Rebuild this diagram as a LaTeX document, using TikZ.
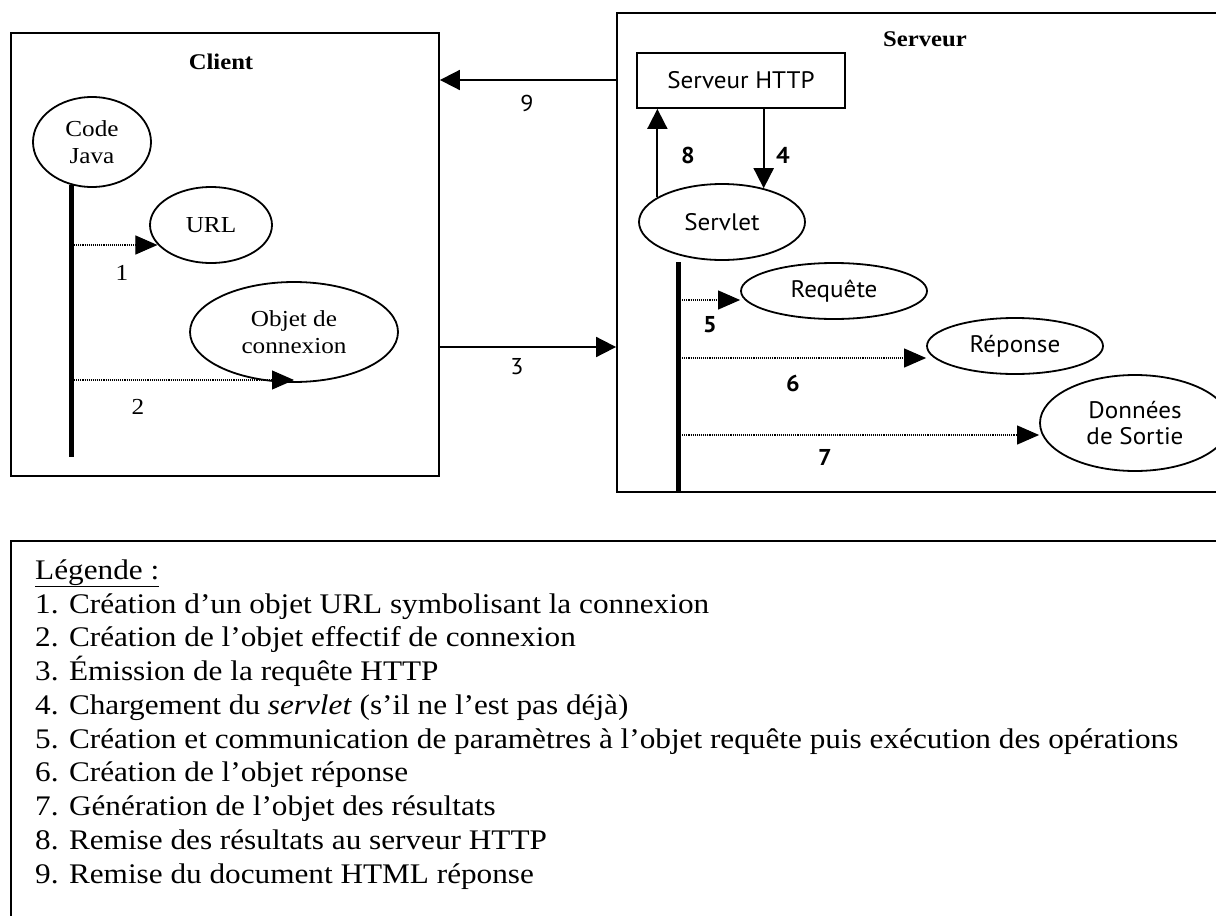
\documentclass[tikz,border=0pt]{standalone}
\usepackage{fontspec}
\setmainfont[FakeStretch=1.1]{Liberation Serif}
\newfontfamily\srvfont[FakeStretch=1.05]{PT Sans}
\usetikzlibrary{shapes.geometric,arrows.meta}

\begin{document}
\begin{tikzpicture}[x=1bp,y=-1bp,
  panel/.style={draw, line width=1.8bp, rectangle, inner sep=0pt},
  objoval/.style={draw, line width=1.8bp, ellipse, inner sep=0pt, align=center},
  seriftext/.style={font=\fontsize{23}{27}\selectfont},
  sanstext/.style={font=\srvfont\fontsize{24}{27}\selectfont},
  boxtitle/.style={inner sep=0pt, font=\bfseries\fontsize{22.5}{27}\selectfont},
  steplabel/.style={inner sep=0pt, font=\fontsize{23}{27}\selectfont},
  srvlabel/.style={inner sep=0pt, font=\srvfont\bfseries\fontsize{23}{27}\selectfont},
  linklabel/.style={inner sep=0pt, font=\srvfont\fontsize{23}{27}\selectfont},
  callarrow/.style={densely dotted, line width=1.1bp, -{Triangle[length=22bp,width=19bp]}},
  msgarrow/.style={line width=1.8bp, -{Triangle[length=20bp,width=20bp]}},
  lifeline/.style={line width=5bp},
  legendline/.style={anchor=base west, inner sep=0pt, font=\fontsize{28.5}{34}\selectfont}
]
\useasboundingbox (0,0) rectangle (1216,916);
\clip (0,0) rectangle (1216,916);

% ---- frames ----
\node[panel, minimum width=428bp, minimum height=443bp] (client) at (225,254.5) {};
\node[panel, minimum width=609bp, minimum height=479bp] (server) at (921.5,252.5) {};
\node[panel, minimum width=1215bp, minimum height=389bp] (legend) at (618.5,735.5) {};

\node[boxtitle] (clienttitle) at (221,62) {Client};
\node[boxtitle] (servertitle) at (925,39) {Serveur};

% ---- client side ----
\node[objoval, seriftext, minimum width=118bp, minimum height=90bp] (java) at (92,142) {Code\\Java};
\node[objoval, seriftext, minimum width=122bp, minimum height=76bp] (url) at (211,225) {URL};
\node[objoval, seriftext, minimum width=208bp, minimum height=100bp] (objet) at (294,332) {Objet de\\connexion};

\coordinate (a1) at (72,245);
\coordinate (a2) at (72,380);
\coordinate (clbot) at (72,457);

\draw[callarrow] (a1) -- (a1 -| url.200);
\draw[callarrow] (a2) -- (a2 -| objet.south);
\draw[lifeline] (java.244) -- (java.244 |- clbot);

\node[steplabel] (lab1) at (122,273) {1};
\node[steplabel] (lab2) at (138,407) {2};

% ---- server side ----
\node[panel, sanstext, minimum width=208bp, minimum height=55bp] (http) at (741,80.5) {Serveur HTTP};
\node[objoval, sanstext, minimum width=166bp, minimum height=76bp] (servlet) at (722,222) {Servlet};
\node[objoval, sanstext, minimum width=186bp, minimum height=56bp] (requete) at (834,291) {Requête};
\node[objoval, sanstext, minimum width=176bp, minimum height=56bp] (reponse) at (1015,346) {Réponse};
\node[objoval, sanstext, minimum width=190bp, minimum height=96bp] (donnees) at (1135,423) {Données\\de Sortie};

\coordinate (sltop) at (678,262);
\coordinate (a5) at (678,300);
\coordinate (a6) at (678,358);
\coordinate (a7) at (678,435);

\draw[lifeline] (sltop) -- (sltop |- server.south);
\draw[callarrow] (a5) -- (a5 -| requete.west);
\draw[callarrow] (a6) -- (a6 -| reponse.west);
\draw[callarrow] (a7) -- (a7 -| donnees.west);

\draw[msgarrow] (servlet.159) -- (servlet.159 |- http.south);
\draw[msgarrow] (servlet.39 |- http.south) -- (servlet.39);

\node[srvlabel] (lab8) at (688,155) {8};
\node[srvlabel] (lab4) at (783,155) {4};
\node[srvlabel] (lab5) at (710,325) {5};
\node[srvlabel] (lab6) at (793,383) {6};
\node[srvlabel] (lab7) at (825,457) {7};

% ---- exchanges between client and server ----
\coordinate (c9) at (528,80);
\coordinate (c3) at (528,347);
\draw[msgarrow] (c9 -| server.west) -- (c9 -| client.east);
\draw[msgarrow] (c3 -| client.east) -- (c3 -| server.west);
\node[linklabel] (lab9) at (527,103) {9};
\node[linklabel] (lab3) at (517,367) {3};

% ---- legend ----
\node[legendline] (leg0) at (35,579) {\underline{Légende :}};
\node[legendline] (leg1) at (35,613) {1. Création d’un objet URL symbolisant la connexion};
\node[legendline] (leg2) at (35,646.75) {2. Création de l’objet effectif de connexion};
\node[legendline] (leg3) at (35,680.5) {3. Émission de la requête HTTP};
\node[legendline] (leg4) at (35,714.25) {4. Chargement du \textit{servlet} (s’il ne l’est pas déjà)};
\node[legendline] (leg5) at (35,748) {5. Création et communication de paramètres à l’objet requête puis exécution des opérations};
\node[legendline] (leg6) at (35,781.75) {6. Création de l’objet réponse};
\node[legendline] (leg7) at (35,815.5) {7. Génération de l’objet des résultats};
\node[legendline] (leg8) at (35,849.25) {8. Remise des résultats au serveur HTTP};
\node[legendline] (leg9) at (35,883) {9. Remise du document HTML réponse};
\end{tikzpicture}
\end{document}
